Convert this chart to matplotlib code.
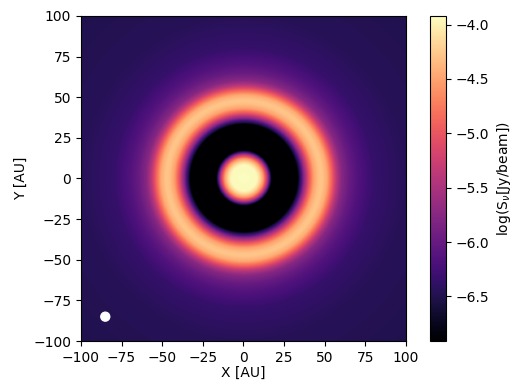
import numpy as np
import matplotlib
matplotlib.use('Agg')
import matplotlib.pyplot as plt
from matplotlib.patches import Circle

# radial brightness profile: radius [AU] -> log(S_nu)
radius = [0, 8, 10, 12, 14, 15.5, 17, 20, 30, 33, 35, 37, 40, 43, 46, 48, 51, 54, 57, 60,
          65, 70, 80, 100, 145]
logS = [-3.92, -3.95, -4.2, -4.6, -5.3, -6.0, -6.9, -7.5, -7.5, -6.9, -6.3, -5.7, -5.0, -4.5,
        -4.3, -4.28, -4.45, -4.9, -5.4, -5.75, -6.0, -6.15, -6.35, -6.45, -6.5]
vmin, vmax = -6.91, -3.92
beam_xy = (-85, -85)
beam_size = 5.5
ticks = [-100, -75, -50, -25, 0, 25, 50, 75, 100]

x = np.linspace(-100, 100, 401)
X, Y = np.meshgrid(x, x)
R = np.hypot(X, Y)
img = np.interp(R, radius, logS)

fig = plt.figure(figsize=(5.18, 3.88), dpi=100)
ax = fig.add_axes([0.156, 0.121, 0.628, 0.838])
cax = fig.add_axes([0.830, 0.121, 0.031, 0.838])

im = ax.imshow(img, origin='lower', extent=[-100, 100, -100, 100], cmap='magma',
               vmin=vmin, vmax=vmax, interpolation='bilinear')
ax.add_patch(Circle(beam_xy, beam_size / 2, color='white'))
ax.set_xticks(ticks)
ax.set_yticks(ticks)
ax.set_xlabel('X [AU]', labelpad=1)
ax.set_ylabel('Y [AU]')

cb = fig.colorbar(im, cax=cax)
cb.set_label(r'log(S$_\nu$[Jy/beam])')

fig.savefig('out.png', dpi=100)
